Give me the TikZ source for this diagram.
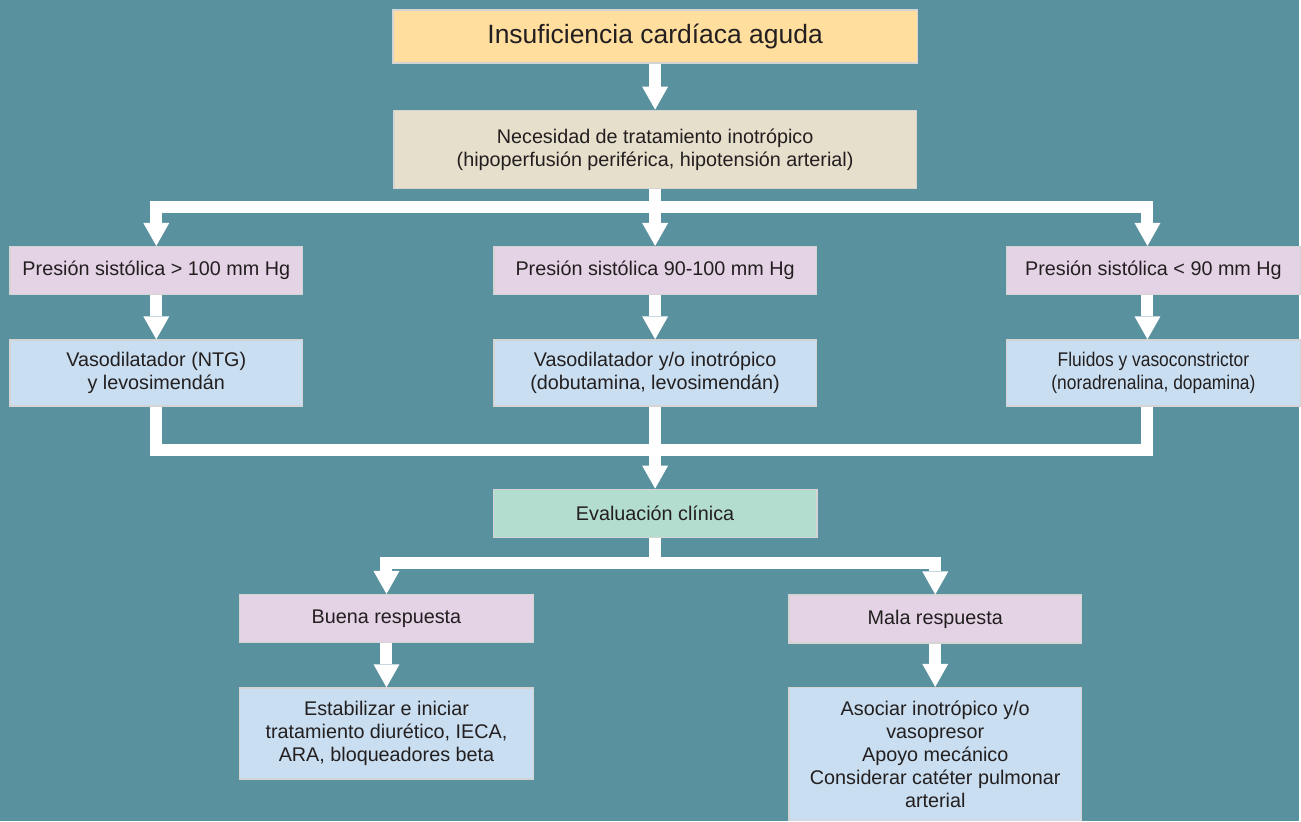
\documentclass[tikz,border=0pt]{standalone}
\usepackage{fontspec}
\setmainfont{Liberation Sans}
\newfontfamily\narrowfont{Liberation Sans}[FakeStretch=0.88]
\usetikzlibrary{positioning,arrows.meta}
\definecolor{bgteal}{RGB}{90,145,158}
\definecolor{boxline}{RGB}{212,212,212}
\definecolor{textdark}{RGB}{35,31,32}
\definecolor{cOrange}{RGB}{255,222,158}
\definecolor{cBeige}{RGB}{230,223,204}
\definecolor{cPink}{RGB}{227,211,229}
\definecolor{cBlue}{RGB}{201,222,240}
\definecolor{cMint}{RGB}{179,221,206}
\tikzset{
  box/.style={draw=boxline, line width=1.5pt, align=center, inner sep=0pt,
    text=textdark, font=\fontsize{19.8}{23}\selectfont},
  flowline/.style={draw=white, line width=12pt},
  flow/.style={flowline, -{Triangle[length=23pt,width=26pt,line width=0pt]}}
}

\begin{document}
\begin{tikzpicture}[x=1pt, y=-1pt]
  \fill[bgteal] (0,0) rectangle (1301,822);

  % Define nodes
  \node[box, fill=cOrange, minimum width=525pt, minimum height=53pt,
    font=\fontsize{26.5}{30}\selectfont] (ica) at (656,36.5) {Insuficiencia cardíaca aguda};
  \node[box, fill=cBeige, minimum width=523pt, minimum height=78pt, below=46pt of ica] (inot)
    {Necesidad de tratamiento inotrópico\\(hipoperfusión periférica, hipotensión arterial)};
  \node[box, fill=cPink, minimum width=323pt, minimum height=48pt, below=57pt of inot] (pb)
    {Presión sistólica 90-100 mm Hg};
  \node[box, fill=cPink, minimum width=293pt, minimum height=48pt, left=190pt of pb] (pa)
    {Presión sistólica > 100 mm Hg};
  \node[box, fill=cPink, minimum width=294pt, minimum height=48pt, right=189pt of pb] (pc)
    {Presión sistólica < 90 mm Hg};
  \node[box, fill=cBlue, minimum width=293pt, minimum height=66pt, below=44pt of pa] (ta)
    {Vasodilatador (NTG)\\y levosimendán};
  \node[box, fill=cBlue, minimum width=323pt, minimum height=66pt, below=44pt of pb] (tb)
    {Vasodilatador y/o inotrópico\\(dobutamina, levosimendán)};
  \node[box, fill=cBlue, minimum width=294pt, minimum height=66pt, below=44pt of pc,
    font=\narrowfont\fontsize{19.8}{23}\selectfont] (tc)
    {Fluidos y vasoconstrictor\\(noradrenalina, dopamina)};
  \node[box, fill=cMint, minimum width=324pt, minimum height=48pt, below=82pt of tb] (ev)
    {Evaluación clínica};
  \node[box, fill=cPink, minimum width=294pt, minimum height=48pt] (br) at (387,619.5)
    {Buena respuesta};
  \node[box, fill=cPink, minimum width=293pt, minimum height=48pt] (mr) at (936.5,620)
    {Mala respuesta};
  \node[box, fill=cBlue, minimum width=294pt, minimum height=91pt, below=44pt of br] (est)
    {Estabilizar e iniciar\\tratamiento diurético, IECA,\\ARA, bloqueadores beta};
  \node[box, fill=cBlue, minimum width=293pt, minimum height=133pt, below=43pt of mr] (aso)
    {Asociar inotrópico y/o\\vasopresor\\Apoyo mecánico\\Considerar catéter pulmonar\\arterial};

  % Branch points
  \coordinate[below=18.5pt of inot.south] (split);
  \coordinate[below=43pt of tb.south] (join);
  \coordinate[below=25pt of ev.south] (split2);

  % Connect the nodes
  \draw[flow] (ica) -- (inot);
  \draw[flowline] (inot) -- (split);
  \draw[flow] (split) -| (pa);
  \draw[flow] (split) -- (pb);
  \draw[flow] (split) -| ([xshift=-6pt]pc.north);
  \draw[flow] (pa) -- (ta);
  \draw[flow] (pb) -- (tb);
  \draw[flow] ([xshift=-6pt]pc.south) -- ([xshift=-6pt]tc.north);
  \draw[flowline] (ta) |- (join) -| ([xshift=-6pt]tc.south);
  \draw[flow] (tb) -- (ev);
  \draw[flowline] (ev) -- (split2);
  \draw[flow] (split2) -| (br);
  \draw[flow] (split2) -| (mr);
  \draw[flow] (br) -- (est);
  \draw[flow] (mr) -- (aso);
\end{tikzpicture}
\end{document}
